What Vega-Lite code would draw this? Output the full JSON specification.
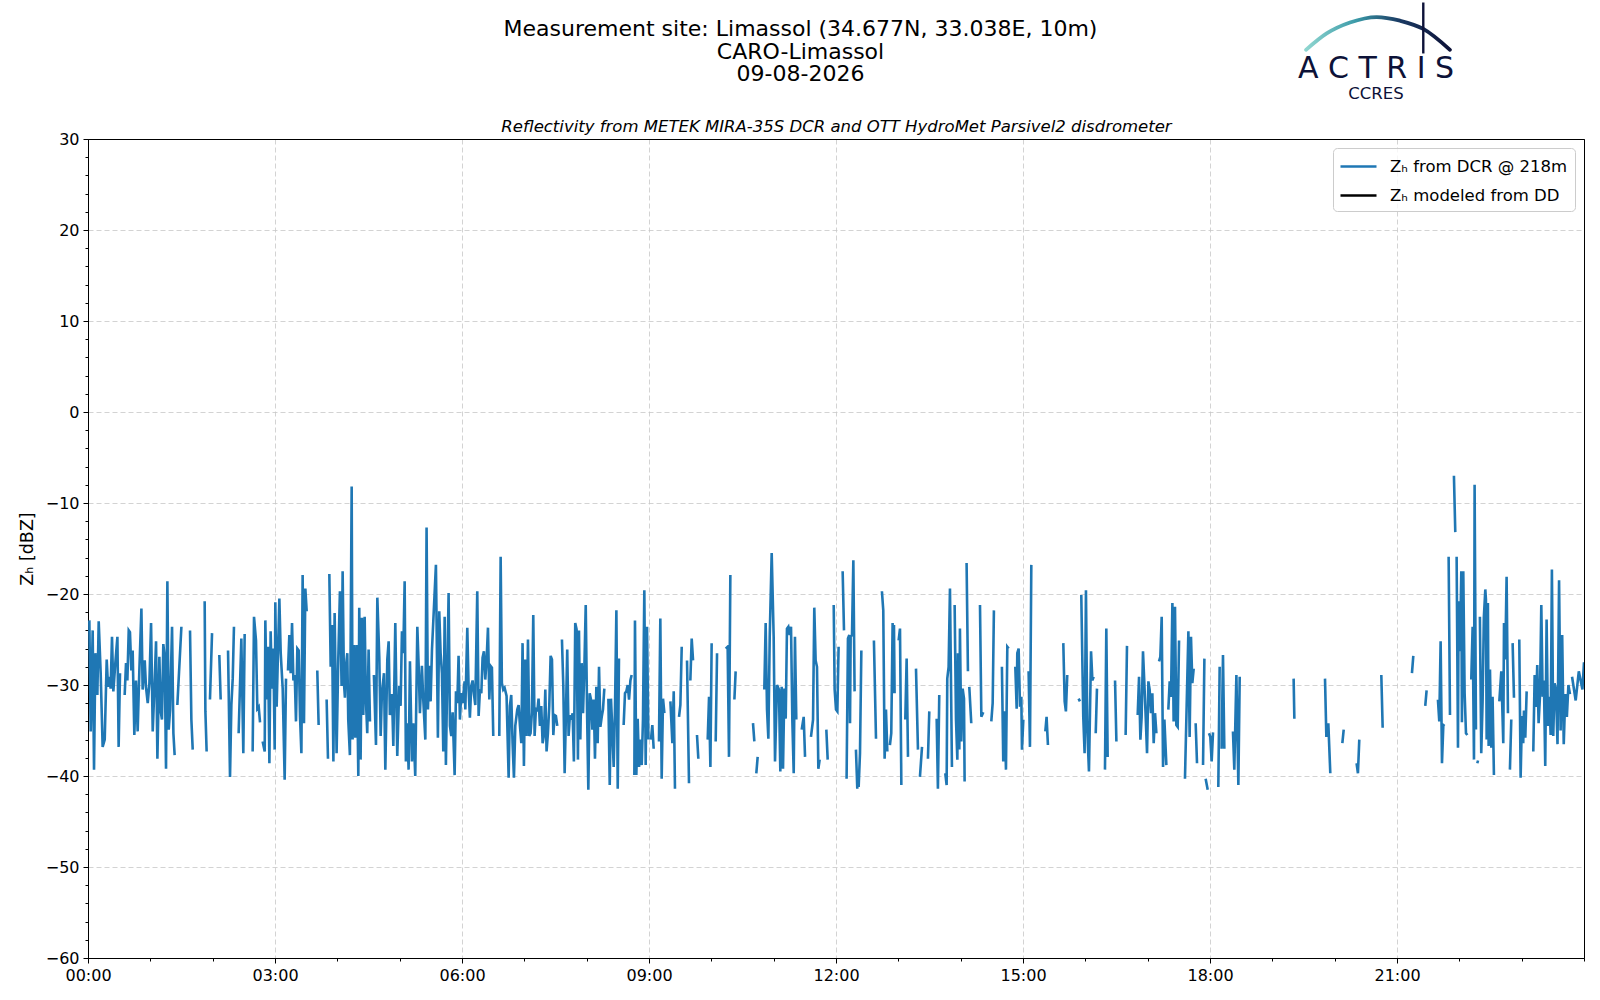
{
  "$schema": "https://vega.github.io/schema/vega-lite/v6.json",
  "autosize": {"type": "none"},
  "width": 1496,
  "height": 819,
  "padding": {"left": 88, "top": 139, "right": 16, "bottom": 42},
  "background": "white",
  "datasets": {
    "zh": [
      {"t":1.3,"z":-22.9},{"t":2.6,"z":-35.1},{"t":4.5,"z":-24.0},{"t":5.8,"z":-39.3},{"t":7.1,"z":-26.5},{"t":9.0,"z":-31.1},{"t":10.3,"z":-23.0},{"t":12.2,"z":-28.7},{"t":14.1,"z":-36.8},{"t":16.1,"z":-36.0},{"t":18.0,"z":-27.2},{"t":19.3,"z":-30.2},{"t":20.6,"z":-29.1},{"t":21.8,"z":-30.4},{"t":23.1,"z":-24.7},{"t":24.4,"z":-30.7},{"t":26.3,"z":-27.6},{"t":28.3,"z":-24.7},{"t":29.5,"z":-36.8},{"t":30.8,"z":-28.7},
      {"t":33,"z":null},
      {"t":35.3,"z":-31.1},{"t":36.6,"z":-27.6},{"t":37.9,"z":-29.5},{"t":39.2,"z":-24.0},{"t":40.4,"z":-24.2},{"t":41.7,"z":-28.4},{"t":43.0,"z":-26.2},{"t":44.6,"z":-35.5},{"t":46.2,"z":-29.5},{"t":47.8,"z":-35.1},{"t":49.4,"z":-28.5},{"t":51.4,"z":-21.6},{"t":52.6,"z":-30.5},{"t":54.6,"z":-27.3},{"t":55.8,"z":-30.2},{"t":57.5,"z":-32.0},{"t":59.1,"z":-29.8},{"t":60.7,"z":-23.2},{"t":62.3,"z":-35.1},{"t":64.2,"z":-29.5},{"t":65.5,"z":-25.2},{"t":66.8,"z":-38.1},{"t":68.7,"z":-26.9},{"t":70.0,"z":-32.9},{"t":71.2,"z":-33.8},{"t":72.5,"z":-25.5},{"t":73.8,"z":-26.9},{"t":75.1,"z":-39.2},{"t":76.4,"z":-18.6},{"t":77.7,"z":-34.9},{"t":79.0,"z":-32.7},{"t":80.9,"z":-23.6},{"t":82.2,"z":-35.3},{"t":83.4,"z":-37.7},
      {"t":84.7,"z":null},
      {"t":86.0,"z":-32.2},{"t":89.9,"z":-23.6},
      {"t":94,"z":null},
      {"t":98.2,"z":-24.0},{"t":99.5,"z":-33.8},{"t":100.8,"z":-37.1},
      {"t":106,"z":null},
      {"t":112.3,"z":-20.8},{"t":113.0,"z":-32.9},{"t":114.2,"z":-37.3},
      {"t":116,"z":null},
      {"t":117.4,"z":-31.6},{"t":119.4,"z":-24.3},
      {"t":123,"z":null},
      {"t":126.4,"z":-26.7},{"t":127.7,"z":-31.6},
      {"t":131,"z":null},
      {"t":134.8,"z":-26.2},{"t":136.7,"z":-40.1},{"t":138.0,"z":-32.2},{"t":139.3,"z":-29.3},{"t":140.5,"z":-23.6},
      {"t":143,"z":null},
      {"t":145.0,"z":-35.3},{"t":147.6,"z":-24.9},{"t":149.5,"z":-37.5},{"t":150.8,"z":-24.4},
      {"t":155,"z":null},
      {"t":158.5,"z":-37.3},{"t":159.8,"z":-22.5},{"t":161.7,"z":-25.1},{"t":163.0,"z":-32.6},{"t":164.3,"z":-32.4},{"t":165.6,"z":-34.1},
      {"t":167,"z":null},
      {"t":168.1,"z":-36.2},{"t":170.1,"z":-37.3},{"t":170.7,"z":-22.9},{"t":172.0,"z":-31.6},{"t":173.3,"z":-25.8},{"t":174.6,"z":-38.6},{"t":175.8,"z":-24.1},{"t":177.1,"z":-30.4},{"t":178.4,"z":-26.0},{"t":179.7,"z":-37.1},{"t":180.3,"z":-20.9},{"t":181.6,"z":-32.4},{"t":182.9,"z":-26.3},{"t":184.2,"z":-20.5},{"t":185.5,"z":-26.5},{"t":187.4,"z":-30.4},{"t":189.3,"z":-40.4},{"t":190.6,"z":-29.3},
      {"t":191.5,"z":null},
      {"t":192.5,"z":-28.4},{"t":193.8,"z":-24.5},{"t":195.1,"z":-28.7},{"t":196.4,"z":-23.2},{"t":197.7,"z":-29.5},{"t":199.0,"z":-28.9},{"t":200.2,"z":-34.0},{"t":201.5,"z":-26.0},{"t":202.8,"z":-26.2},{"t":204.1,"z":-33.5},{"t":205.4,"z":-37.5},{"t":206.6,"z":-17.9},{"t":207.9,"z":-34.2},{"t":209.2,"z":-19.4},{"t":210.5,"z":-21.9},
      {"t":215,"z":null},
      {"t":220.7,"z":-28.4},{"t":222.0,"z":-34.4},
      {"t":226,"z":null},
      {"t":229.7,"z":-31.6},{"t":231.0,"z":-38.1},
      {"t":231.6,"z":null},
      {"t":232.3,"z":-17.8},{"t":233.6,"z":-28.0},{"t":234.9,"z":-23.4},{"t":236.2,"z":-38.4},{"t":237.4,"z":-22.1},{"t":239.3,"z":-37.5},{"t":240.9,"z":-27.2},{"t":242.5,"z":-19.7},{"t":244.1,"z":-30.1},{"t":245.1,"z":-17.5},{"t":246.4,"z":-29.8},{"t":247.3,"z":-31.4},{"t":248.3,"z":-27.9},{"t":249.6,"z":-26.5},{"t":250.5,"z":-33.8},{"t":252.1,"z":-37.7},{"t":253.8,"z":-8.2},{"t":254.7,"z":-36.0},{"t":256.0,"z":-25.6},{"t":257.3,"z":-35.8},{"t":258.6,"z":-25.6},{"t":260.2,"z":-40.0},{"t":261.1,"z":-21.5},{"t":262.4,"z":-38.2},{"t":263.7,"z":-22.6},{"t":265.0,"z":-33.3},{"t":266.3,"z":-22.5},{"t":267.5,"z":-31.6},{"t":268.8,"z":-35.3},{"t":270.1,"z":-26.1},{"t":271.4,"z":-34.0},
      {"t":273,"z":null},
      {"t":275.2,"z":-28.9},{"t":277.2,"z":-36.6},{"t":278.5,"z":-20.4},{"t":280.4,"z":-27.0},{"t":281.7,"z":-35.6},{"t":282.9,"z":-30.9},{"t":284.9,"z":-28.7},{"t":286.2,"z":-39.3},{"t":288.1,"z":-27.2},{"t":289.4,"z":-25.2},{"t":290.6,"z":-33.3},{"t":292.6,"z":-31.0},{"t":293.9,"z":-36.7},{"t":295.8,"z":-23.2},{"t":297.7,"z":-37.8},{"t":299.6,"z":-30.1},{"t":300.9,"z":-32.3},{"t":302.2,"z":-24.1},{"t":303.5,"z":-26.5},{"t":304.8,"z":-18.6},{"t":306.0,"z":-38.4},{"t":307.3,"z":-34.2},{"t":308.6,"z":-39.3},{"t":309.9,"z":-27.4},{"t":311.8,"z":-38.4},{"t":313.1,"z":-34.2},{"t":315.0,"z":-40.0},{"t":317.0,"z":-23.6},{"t":318.2,"z":-27.6},{"t":319.5,"z":-33.1},{"t":321.4,"z":-27.9},{"t":322.7,"z":-31.6},{"t":324.7,"z":-36.0},{"t":325.9,"z":-12.7},{"t":327.2,"z":-32.7},{"t":328.5,"z":-27.9},{"t":329.8,"z":-31.8},{"t":331.1,"z":-26.1},{"t":334.9,"z":-16.8},{"t":336.8,"z":-35.8},{"t":338.1,"z":-21.9},{"t":339.4,"z":-26.5},{"t":340.7,"z":-28.7},{"t":342.0,"z":-37.3},{"t":343.3,"z":-22.5},{"t":344.5,"z":-38.8},{"t":345.8,"z":-29.0},{"t":347.1,"z":-19.9},{"t":348.4,"z":-34.5},{"t":349.7,"z":-35.6},{"t":351.0,"z":-33.0},{"t":352.9,"z":-39.9},{"t":354.2,"z":-30.7},{"t":355.5,"z":-32.0},{"t":356.7,"z":-26.8},{"t":358.0,"z":-33.8},{"t":359.3,"z":-30.9},{"t":360.6,"z":-32.0},{"t":362.5,"z":-29.6},{"t":363.2,"z":-32.7},{"t":365.1,"z":-23.7},{"t":366.4,"z":-30.5},{"t":367.6,"z":-33.6},{"t":368.9,"z":-30.1},{"t":370.2,"z":-29.5},{"t":371.5,"z":-31.0},{"t":372.8,"z":-32.2},{"t":374.7,"z":-19.7},{"t":376.0,"z":-33.4},{"t":377.3,"z":-30.5},{"t":378.6,"z":-30.9},{"t":379.8,"z":-27.0},{"t":381.1,"z":-26.3},{"t":382.4,"z":-29.4},{"t":383.7,"z":-27.2},{"t":385.0,"z":-23.7},{"t":386.3,"z":-31.6},{"t":387.5,"z":-27.9},{"t":388.8,"z":-28.1},{"t":390.1,"z":-35.6},
      {"t":393,"z":null},
      {"t":395.9,"z":-35.6},{"t":397.2,"z":-15.9},{"t":398.4,"z":-29.8},{"t":399.7,"z":-30.5},{"t":401.0,"z":-30.3},{"t":402.9,"z":-31.2},{"t":404.9,"z":-40.2},{"t":406.1,"z":-32.3},{"t":407.4,"z":-31.1},{"t":408.7,"z":-36.4},{"t":410.0,"z":-40.2},{"t":411.3,"z":-34.5},{"t":413.2,"z":-32.7},{"t":414.5,"z":-32.2},{"t":415.8,"z":-34.5},{"t":417.1,"z":-36.4},{"t":418.3,"z":-25.4},{"t":419.6,"z":-38.9},{"t":420.9,"z":-27.2},{"t":422.2,"z":-35.6},{"t":423.5,"z":-25.0},{"t":424.8,"z":-35.6},{"t":426.0,"z":-35.3},{"t":427.3,"z":-33.0},{"t":428.6,"z":-22.3},{"t":429.9,"z":-35.6},{"t":431.2,"z":-32.5},{"t":432.5,"z":-32.9},{"t":433.7,"z":-31.5},{"t":435.0,"z":-34.5},{"t":436.3,"z":-32.3},{"t":437.6,"z":-36.4},{"t":438.9,"z":-35.5},{"t":440.2,"z":-30.5},{"t":441.4,"z":-37.3},{"t":442.7,"z":-35.3},{"t":444.0,"z":-32.3},{"t":445.3,"z":-26.8},{"t":446.6,"z":-27.2},{"t":447.9,"z":-35.5},{"t":449.1,"z":-33.3},{"t":450.4,"z":-33.4},{"t":451.7,"z":-34.5},
      {"t":454,"z":null},
      {"t":456.2,"z":-25.0},{"t":457.5,"z":-30.0},{"t":458.8,"z":-39.7},{"t":460.0,"z":-33.4},{"t":461.3,"z":-26.1},{"t":462.6,"z":-35.6},{"t":463.9,"z":-33.3},{"t":465.2,"z":-33.8},{"t":466.5,"z":-33.1},{"t":467.7,"z":-38.4},{"t":469.0,"z":-23.2},{"t":470.3,"z":-23.9},{"t":471.6,"z":-38.2},{"t":472.6,"z":-24.0},{"t":473.9,"z":-36.0},{"t":475.2,"z":-27.6},{"t":476.5,"z":-33.1},{"t":477.8,"z":-28.0},{"t":479.1,"z":-21.2},{"t":480.4,"z":-33.1},{"t":481.6,"z":-41.5},{"t":482.9,"z":-30.9},{"t":484.2,"z":-31.6},{"t":485.5,"z":-34.9},{"t":486.8,"z":-31.6},{"t":488.0,"z":-38.1},{"t":489.3,"z":-30.2},{"t":490.6,"z":-36.4},{"t":491.9,"z":-28.0},{"t":493.2,"z":-34.6},{"t":494.5,"z":-33.5},{"t":495.7,"z":-32.7},{"t":497.0,"z":-30.4},
      {"t":499,"z":null},
      {"t":500.9,"z":-31.5},{"t":502.2,"z":-41.0},{"t":503.4,"z":-31.5},{"t":504.7,"z":-34.9},{"t":506.0,"z":-39.0},{"t":507.3,"z":-32.4},{"t":508.6,"z":-21.8},{"t":509.9,"z":-41.4},{"t":511.1,"z":-27.1},
      {"t":513,"z":null},
      {"t":515.6,"z":-34.4},{"t":516.9,"z":-30.9},{"t":518.2,"z":-30.7},{"t":519.5,"z":-30.0},{"t":520.8,"z":-31.6},{"t":522.1,"z":-29.5},{"t":523.3,"z":-28.9},
      {"t":524.5,"z":null},
      {"t":525.9,"z":-39.9},{"t":526.5,"z":-22.9},{"t":527.8,"z":-39.9},{"t":529.1,"z":-33.7},{"t":530.4,"z":-39.0},{"t":531.7,"z":-36.0},{"t":533.0,"z":-38.8},{"t":534.2,"z":-33.8},{"t":535.5,"z":-19.6},{"t":536.8,"z":-38.8},{"t":538.1,"z":-23.6},{"t":539.4,"z":-36.0},
      {"t":540.5,"z":null},
      {"t":541.9,"z":-36.0},{"t":543.2,"z":-34.4},{"t":544.5,"z":-37.0},
      {"t":547,"z":null},
      {"t":549.6,"z":-36.2},{"t":550.9,"z":-22.7},{"t":552.2,"z":-40.3},{"t":553.5,"z":-31.5},{"t":554.8,"z":-33.1},
      {"t":557,"z":null},
      {"t":560.6,"z":-31.8},{"t":562.5,"z":-36.4},{"t":563.8,"z":-30.7},{"t":565.0,"z":-41.4},
      {"t":567,"z":null},
      {"t":568.9,"z":-33.5},{"t":570.2,"z":-32.2},{"t":571.5,"z":-25.8},
      {"t":574,"z":null},
      {"t":576.6,"z":-27.3},{"t":578.5,"z":-40.8},
      {"t":579.2,"z":null},
      {"t":579.8,"z":-29.5},{"t":581.1,"z":-24.9},{"t":582.4,"z":-27.3},
      {"t":584,"z":null},
      {"t":586.2,"z":-35.5},{"t":587.5,"z":-38.1},
      {"t":592,"z":null},
      {"t":596.5,"z":-36.0},{"t":597.8,"z":-31.3},{"t":599.1,"z":-39.0},{"t":600.3,"z":-25.4},
      {"t":602,"z":null},
      {"t":604.2,"z":-36.2},{"t":605.5,"z":-26.5},
      {"t":610,"z":null},
      {"t":613.8,"z":-26.0},{"t":615.7,"z":-25.8},{"t":617.0,"z":-37.9},{"t":618.3,"z":-17.9},
      {"t":620,"z":null},
      {"t":622.2,"z":-31.6},{"t":623.4,"z":-28.5},
      {"t":630,"z":null},
      {"t":640.1,"z":-34.2},{"t":641.4,"z":-36.2},
      {"t":642.5,"z":null},
      {"t":643.3,"z":-39.7},{"t":644.6,"z":-37.9},
      {"t":648,"z":null},
      {"t":651.0,"z":-30.5},{"t":652.3,"z":-23.2},{"t":653.6,"z":-32.7},{"t":654.9,"z":-35.9},{"t":656.2,"z":-24.7},{"t":658.1,"z":-15.5},{"t":660.0,"z":-24.7},{"t":661.3,"z":-38.4},{"t":663.2,"z":-30.0},{"t":665.1,"z":-30.5},{"t":666.4,"z":-39.5},{"t":667.7,"z":-30.2},{"t":669.0,"z":-39.2},{"t":670.3,"z":-30.4},{"t":671.6,"z":-33.7},{"t":672.8,"z":-23.8},{"t":674.1,"z":-23.6},{"t":675.4,"z":-24.5},{"t":676.7,"z":-23.6},{"t":678.0,"z":-34.0},{"t":679.3,"z":-39.7},{"t":680.5,"z":-24.7},{"t":681.8,"z":-33.8},
      {"t":684,"z":null},
      {"t":687.0,"z":-34.9},{"t":688.9,"z":-33.5},{"t":690.2,"z":-37.9},
      {"t":693,"z":null},
      {"t":695.9,"z":-35.7},{"t":697.9,"z":-33.8},{"t":699.1,"z":-21.5},{"t":700.4,"z":-27.3},{"t":701.7,"z":-28.0},{"t":703.0,"z":-39.2},{"t":704.3,"z":-38.2},
      {"t":707,"z":null},
      {"t":710.7,"z":-34.9},{"t":712.0,"z":-38.2},
      {"t":715,"z":null},
      {"t":717.8,"z":-21.2},{"t":718.7,"z":-30.5},{"t":720.0,"z":-32.7},{"t":721.3,"z":-32.9},{"t":722.5,"z":-25.8},
      {"t":724,"z":null},
      {"t":726.4,"z":-17.5},{"t":727.7,"z":-24.0},
      {"t":729,"z":null},
      {"t":730.2,"z":-40.3},{"t":731.5,"z":-24.9},{"t":732.8,"z":-24.5},{"t":733.5,"z":-34.2},{"t":734.1,"z":-24.7},{"t":735.4,"z":-24.5},{"t":736.7,"z":-16.3},{"t":737.9,"z":-30.7},
      {"t":738.5,"z":null},
      {"t":739.2,"z":-37.1},{"t":740.5,"z":-41.4},
      {"t":741.2,"z":null},
      {"t":741.8,"z":-41.2},{"t":743.1,"z":-37.5},{"t":744.4,"z":-26.2},
      {"t":750,"z":null},
      {"t":756.5,"z":-25.1},{"t":758.5,"z":-35.9},
      {"t":761,"z":null},
      {"t":764.2,"z":-19.7},{"t":765.5,"z":-21.8},{"t":766.8,"z":-38.1},{"t":768.1,"z":-32.7},{"t":769.4,"z":-37.3},
      {"t":770.5,"z":null},
      {"t":771.9,"z":-36.6},{"t":773.2,"z":-35.3},{"t":774.5,"z":-23.2},{"t":775.2,"z":-30.9},{"t":775.8,"z":-23.4},{"t":776.4,"z":-30.9},
      {"t":778,"z":null},
      {"t":780.3,"z":-25.1},{"t":781.6,"z":-23.8},{"t":782.9,"z":-41.0},
      {"t":785,"z":null},
      {"t":786.7,"z":-33.8},{"t":788.0,"z":-27.1},{"t":789.3,"z":-37.9},
      {"t":793,"z":null},
      {"t":797.0,"z":-28.2},{"t":798.9,"z":-37.1},
      {"t":799.8,"z":null},
      {"t":800.8,"z":-40.1},{"t":802.8,"z":-36.8},
      {"t":805,"z":null},
      {"t":808.5,"z":-38.1},{"t":809.8,"z":-32.9},
      {"t":813,"z":null},
      {"t":816.9,"z":-33.7},{"t":818.1,"z":-41.4},{"t":819.4,"z":-31.1},
      {"t":822,"z":null},
      {"t":825.2,"z":-39.7},{"t":826.5,"z":-41.0},{"t":827.1,"z":-29.3},{"t":828.4,"z":-28.0},{"t":829.7,"z":-19.4},{"t":831.6,"z":-39.0},
      {"t":833,"z":null},
      {"t":834.2,"z":-21.2},{"t":835.5,"z":-33.8},{"t":836.8,"z":-38.2},{"t":837.4,"z":-26.5},{"t":838.7,"z":-37.1},{"t":839.3,"z":-23.8},{"t":840.6,"z":-36.2},{"t":841.9,"z":-30.4},{"t":843.2,"z":-31.5},{"t":843.8,"z":-40.6},
      {"t":844.8,"z":null},
      {"t":845.7,"z":-16.6},{"t":847.0,"z":-28.5},
      {"t":847.6,"z":null},
      {"t":848.3,"z":-30.2},{"t":850.2,"z":-34.2},
      {"t":855,"z":null},
      {"t":858.6,"z":-21.2},{"t":859.9,"z":-33.5},{"t":861.8,"z":-33.0},
      {"t":865,"z":null},
      {"t":869.5,"z":-34.0},{"t":870.8,"z":-32.0},{"t":872.0,"z":-21.8},
      {"t":876,"z":null},
      {"t":879.7,"z":-28.0},{"t":881.0,"z":-38.4},{"t":882.3,"z":-32.9},{"t":883.6,"z":-39.3},{"t":884.9,"z":-25.8},{"t":886.2,"z":-26.0},
      {"t":889,"z":null},
      {"t":892.6,"z":-28.0},{"t":893.9,"z":-32.6},{"t":894.5,"z":-26.5},{"t":895.8,"z":-26.0},{"t":897.1,"z":-32.4},{"t":898.4,"z":-31.3},{"t":899.0,"z":-37.1},{"t":900.3,"z":-33.8},
      {"t":903,"z":null},
      {"t":905.4,"z":-28.5},{"t":906.7,"z":-36.8},{"t":908.0,"z":-16.8},
      {"t":915,"z":null},
      {"t":921.5,"z":-35.1},{"t":922.7,"z":-33.5},{"t":924.0,"z":-36.6},
      {"t":930,"z":null},
      {"t":938.8,"z":-25.4},{"t":940.1,"z":-31.8},{"t":941.3,"z":-32.9},{"t":942.6,"z":-28.9},
      {"t":948,"z":null},
      {"t":953.5,"z":-31.5},{"t":954.8,"z":-31.8},
      {"t":955.4,"z":null},
      {"t":956.1,"z":-20.1},{"t":958.0,"z":-33.5},{"t":959.3,"z":-37.5},{"t":960.6,"z":-19.6},{"t":961.9,"z":-35.0},{"t":963.5,"z":-39.5},{"t":965.5,"z":-26.3},{"t":966.8,"z":-29.5},{"t":968.0,"z":-29.1},
      {"t":969,"z":null},
      {"t":970.0,"z":-35.3},{"t":971.2,"z":-30.4},
      {"t":975,"z":null},
      {"t":978.9,"z":-39.3},{"t":980.2,"z":-23.8},{"t":981.5,"z":-37.9},
      {"t":985,"z":null},
      {"t":988.6,"z":-29.5},{"t":989.9,"z":-36.2},
      {"t":995,"z":null},
      {"t":998.8,"z":-35.5},{"t":1000.1,"z":-25.7},
      {"t":1005,"z":null},
      {"t":1010.4,"z":-33.3},{"t":1011.7,"z":-29.1},{"t":1013.0,"z":-36.0},{"t":1014.2,"z":-33.5},{"t":1015.5,"z":-26.3},{"t":1016.8,"z":-29.8},{"t":1018.1,"z":-33.5},{"t":1019.4,"z":-37.5},{"t":1020.7,"z":-29.6},{"t":1021.9,"z":-30.5},{"t":1023.2,"z":-33.1},{"t":1024.5,"z":-30.9},{"t":1025.8,"z":-36.4},{"t":1027.1,"z":-33.1},{"t":1028.4,"z":-35.3},
      {"t":1029.5,"z":null},
      {"t":1030.9,"z":-27.4},{"t":1032.2,"z":-26.9},{"t":1033.5,"z":-22.5},{"t":1034.8,"z":-39.0},{"t":1036.1,"z":-33.8},{"t":1038.0,"z":-38.8},
      {"t":1039,"z":null},
      {"t":1039.9,"z":-32.7},{"t":1041.2,"z":-29.6},{"t":1042.5,"z":-31.3},{"t":1043.8,"z":-21.0},{"t":1045.0,"z":-34.0},{"t":1046.3,"z":-21.4},{"t":1047.6,"z":-34.4},{"t":1048.9,"z":-34.6},{"t":1050.2,"z":-25.1},
      {"t":1053,"z":null},
      {"t":1055.9,"z":-40.3},{"t":1059.2,"z":-24.1},{"t":1060.4,"z":-35.7},{"t":1061.7,"z":-24.7},{"t":1063.0,"z":-29.8},{"t":1064.3,"z":-28.2},
      {"t":1065.2,"z":null},
      {"t":1066.2,"z":-34.2},{"t":1067.5,"z":-38.6},
      {"t":1070,"z":null},
      {"t":1073.3,"z":-38.8},{"t":1074.6,"z":-27.1},
      {"t":1075.2,"z":null},
      {"t":1075.8,"z":-40.3},{"t":1077.8,"z":-41.5},
      {"t":1078.4,"z":null},
      {"t":1079.0,"z":-35.3},{"t":1080.3,"z":-35.7},{"t":1081.6,"z":-38.4},{"t":1082.9,"z":-35.2},
      {"t":1085,"z":null},
      {"t":1088.0,"z":-41.2},{"t":1089.3,"z":-28.0},
      {"t":1090,"z":null},
      {"t":1091.2,"z":-37.0},{"t":1092.5,"z":-26.7},{"t":1093.8,"z":-37.0},
      {"t":1098,"z":null},
      {"t":1102.1,"z":-35.1},{"t":1103.4,"z":-39.3},{"t":1105.4,"z":-28.9},{"t":1107.3,"z":-41.0},{"t":1108.6,"z":-29.1},
      {"t":1130,"z":null},
      {"t":1160.5,"z":-29.3},{"t":1161.2,"z":-33.7},
      {"t":1175,"z":null},
      {"t":1190.7,"z":-29.3},{"t":1192.0,"z":-35.7},{"t":1193.9,"z":-34.2},{"t":1195.8,"z":-39.7},
      {"t":1200,"z":null},
      {"t":1207.4,"z":-36.4},{"t":1208.7,"z":-34.9},
      {"t":1215,"z":null},
      {"t":1221.1,"z":-38.6},{"t":1222.4,"z":-39.7},{"t":1223.7,"z":-36.0},
      {"t":1235,"z":null},
      {"t":1244.9,"z":-28.9},{"t":1246.2,"z":-34.7},
      {"t":1260,"z":null},
      {"t":1274.4,"z":-28.7},{"t":1275.7,"z":-26.8},
      {"t":1280,"z":null},
      {"t":1287.2,"z":-32.3},{"t":1288.5,"z":-30.6},
      {"t":1293,"z":null},
      {"t":1299.4,"z":-31.6},{"t":1300.7,"z":-34.0},{"t":1302.0,"z":-25.2},{"t":1303.3,"z":-38.6},{"t":1304.6,"z":-34.4},{"t":1305.8,"z":-34.5},
      {"t":1307.5,"z":null},
      {"t":1309.7,"z":-15.9},{"t":1311.0,"z":-33.3},
      {"t":1313,"z":null},
      {"t":1314.8,"z":-7.0},{"t":1316.1,"z":-13.2},
      {"t":1316.8,"z":null},
      {"t":1317.4,"z":-15.9},{"t":1318.7,"z":-36.9},{"t":1319.3,"z":-20.8},{"t":1320.6,"z":-26.3},{"t":1321.9,"z":-17.5},{"t":1322.5,"z":-34.1},{"t":1323.8,"z":-17.5},{"t":1325.1,"z":-30.9},{"t":1326.4,"z":-35.3},{"t":1327.7,"z":-35.5},
      {"t":1329.5,"z":null},
      {"t":1331.5,"z":-29.4},{"t":1332.8,"z":-23.6},{"t":1334.1,"z":-38.2},{"t":1334.7,"z":-8.0},{"t":1336.0,"z":-34.9},
      {"t":1336.6,"z":null},
      {"t":1337.3,"z":-38.6},{"t":1338.0,"z":-38.3},
      {"t":1338.9,"z":null},
      {"t":1339.8,"z":-22.5},{"t":1341.1,"z":-37.5},{"t":1342.4,"z":-31.8},{"t":1343.6,"z":-22.6},{"t":1345.0,"z":-19.5},{"t":1345.6,"z":-20.6},{"t":1346.3,"z":-36.0},{"t":1347.5,"z":-21.0},{"t":1348.2,"z":-36.7},{"t":1349.5,"z":-28.3},{"t":1350.8,"z":-36.9},{"t":1352.0,"z":-31.3},{"t":1353.3,"z":-39.9},
      {"t":1356,"z":null},
      {"t":1358.5,"z":-31.8},{"t":1360.4,"z":-28.5},{"t":1362.3,"z":-36.4},{"t":1363.0,"z":-23.2},{"t":1364.2,"z":-27.2},{"t":1365.5,"z":-18.1},{"t":1366.8,"z":-33.1},
      {"t":1367.8,"z":null},
      {"t":1368.7,"z":-39.3},{"t":1370.0,"z":-33.8},
      {"t":1370.6,"z":null},
      {"t":1371.3,"z":-25.4},{"t":1372.6,"z":-31.4},
      {"t":1375,"z":null},
      {"t":1377.7,"z":-25.0},{"t":1379.0,"z":-40.2},{"t":1380.3,"z":-33.4},{"t":1381.5,"z":-36.4},{"t":1382.2,"z":-32.8},{"t":1383.5,"z":-35.8},{"t":1384.8,"z":-30.7},
      {"t":1388,"z":null},
      {"t":1391.2,"z":-37.3},{"t":1392.5,"z":-28.9},{"t":1393.8,"z":-32.4},{"t":1395.0,"z":-27.8},{"t":1396.3,"z":-34.2},{"t":1397.6,"z":-31.3},{"t":1398.9,"z":-21.2},{"t":1400.2,"z":-31.3},{"t":1401.4,"z":-29.5},{"t":1402.7,"z":-38.9},{"t":1404.0,"z":-22.8},{"t":1405.3,"z":-34.5},{"t":1406.6,"z":-31.3},{"t":1407.9,"z":-35.5},{"t":1409.1,"z":-17.3},{"t":1410.4,"z":-35.6},{"t":1411.7,"z":-29.8},{"t":1413.0,"z":-30.5},{"t":1414.5,"z":-36.5},{"t":1416.0,"z":-18.5},{"t":1417.5,"z":-35.0},{"t":1419.0,"z":-24.5},{"t":1420.5,"z":-36.5},{"t":1422.0,"z":-31.0},{"t":1423.5,"z":-33.5},{"t":1425.0,"z":-30.0},{"t":1426.5,"z":-31.0},
      {"t":1427.5,"z":null},
      {"t":1428.5,"z":-29.1},{"t":1432.0,"z":-31.7},{"t":1435.0,"z":-28.5},{"t":1438.5,"z":-30.5},{"t":1440.0,"z":-27.5}
    ],
    "arc": [
      {"t":1172.4,"z":39.8},{"t":1192.3,"z":41.6},{"t":1214.7,"z":42.8},{"t":1240.4,"z":43.4},{"t":1262.9,"z":43.0},{"t":1285.3,"z":42.1},{"t":1311.0,"z":39.8}
    ]
  },
  "layer": [
    {
      "data": {"name": "zh"},
      "mark": {"type": "line", "strokeWidth": 2.6, "clip": true},
      "encoding": {
        "x": {
          "field": "t", "type": "quantitative",
          "scale": {"domain": [0, 1440], "nice": false, "zero": false},
          "axis": {
            "orient": "bottom", "title": null,
            "values": [0, 180, 360, 540, 720, 900, 1080, 1260],
            "labelExpr": "(datum.value < 600 ? '0' : '') + (datum.value / 60) + ':00'",
            "labelFlush": false, "grid": true, "tickSize": 5, "labelPadding": 4
          }
        },
        "y": {
          "field": "z", "type": "quantitative",
          "scale": {"domain": [-60, 30], "nice": false, "zero": false},
          "axis": {
            "orient": "left", "title": "Zₕ [dBZ]", "titleFontSize": 17.5, "titlePadding": 9,
            "values": [-60, -50, -40, -30, -20, -10, 0, 10, 20, 30],
            "format": "d", "labelFlush": false, "grid": true, "tickSize": 5, "labelPadding": 4
          }
        },
        "color": {
          "datum": "Zₕ from DCR @ 218m", "type": "nominal",
          "scale": {"domain": ["Zₕ from DCR @ 218m", "Zₕ modeled from DD"], "range": ["#1f77b4", "#000000"]},
          "legend": {
            "title": null, "orient": "top-right", "offset": 9,
            "fillColor": "rgba(255,255,255,0.8)", "strokeColor": "#cccccc", "cornerRadius": 4,
            "padding": 7, "rowPadding": 9,
            "symbolType": "M-1.1,0L2.5,0", "symbolSize": 400, "symbolStrokeWidth": 2.6,
            "labelOffset": 27, "labelFontSize": 16.5, "labelColor": "black", "labelLimit": 400
          }
        }
      }
    },
    {
      "data": {"values": [{}]},
      "mark": {"type": "point", "opacity": 0},
      "encoding": {
        "x": {
          "datum": 0, "type": "quantitative",
          "scale": {"domain": [0, 1440], "nice": false, "zero": false},
          "axis": {
            "orient": "bottom", "title": null, "labels": false, "grid": false, "domain": false, "tickSize": 3,
            "values": [0, 60, 120, 180, 240, 300, 360, 420, 480, 540, 600, 660, 720, 780, 840, 900, 960, 1020, 1080, 1140, 1200, 1260, 1320, 1380, 1440]
          }
        },
        "y": {
          "datum": 0, "type": "quantitative",
          "scale": {"domain": [-60, 30], "nice": false, "zero": false},
          "axis": {
            "orient": "left", "title": null, "labels": false, "grid": false, "domain": false, "tickSize": 3,
            "values": [-60, -58, -56, -54, -52, -50, -48, -46, -44, -42, -40, -38, -36, -34, -32, -30, -28, -26, -24, -22, -20, -18, -16, -14, -12, -10, -8, -6, -4, -2, 0, 2, 4, 6, 8, 10, 12, 14, 16, 18, 20, 22, 24, 26, 28, 30]
          }
        }
      }
    },
    {
      "data": {"values": [{}]},
      "mark": {"type": "point", "opacity": 0},
      "encoding": {
        "x": {
          "datum": 0, "type": "quantitative",
          "scale": {"domain": [0, 1440], "nice": false, "zero": false},
          "axis": {
            "orient": "top", "labels": false, "ticks": false, "grid": false, "domain": true, "zindex": 1,
            "title": "Reflectivity from METEK MIRA-35S DCR and OTT HydroMet Parsivel2 disdrometer",
            "titleFontStyle": "italic", "titleFontSize": 16.5, "titleBaseline": "alphabetic", "titleY": -7.5
          }
        },
        "y": {"datum": 0, "type": "quantitative", "scale": {"domain": [-60, 30], "nice": false, "zero": false}, "axis": null}
      }
    },
    {
      "data": {"values": [{}]},
      "mark": {"type": "point", "opacity": 0},
      "encoding": {
        "x": {
          "datum": 0, "type": "quantitative",
          "scale": {"domain": [0, 1440], "nice": false, "zero": false},
          "axis": {
            "orient": "top", "labels": false, "ticks": false, "grid": false, "domain": false,
            "title": ["Measurement site: Limassol (34.677N, 33.038E, 10m)", "CARO-Limassol", "09-08-2026"],
            "titleFontSize": 22, "titleLineHeight": 22.7, "titleBaseline": "alphabetic",
            "titleAlign": "center", "titleX": 712, "titleY": -103.5
          }
        },
        "y": {"datum": 0, "type": "quantitative", "scale": {"domain": [-60, 30], "nice": false, "zero": false}, "axis": null}
      }
    },
    {
      "data": {"name": "arc"},
      "mark": {
        "type": "line", "clip": false, "interpolate": "monotone", "strokeWidth": 3.8, "strokeCap": "round",
        "stroke": {
          "gradient": "linear", "x1": 0, "y1": 0, "x2": 1, "y2": 0,
          "stops": [
            {"offset": 0, "color": "#8fd6d0"},
            {"offset": 0.35, "color": "#3b9aa8"},
            {"offset": 0.65, "color": "#1a3a63"},
            {"offset": 1, "color": "#0d1238"}
          ]
        }
      },
      "encoding": {
        "x": {"field": "t", "type": "quantitative", "scale": {"domain": [0, 1440], "nice": false, "zero": false}, "axis": null},
        "y": {"field": "z", "type": "quantitative", "scale": {"domain": [-60, 30], "nice": false, "zero": false}, "axis": null}
      }
    },
    {
      "data": {"values": [{}]},
      "mark": {"type": "rule", "clip": false, "strokeWidth": 2.4, "color": "#0d1238"},
      "encoding": {
        "x": {"datum": 1285.3, "type": "quantitative", "scale": {"domain": [0, 1440], "nice": false, "zero": false}, "axis": null},
        "y": {"datum": 45.0, "type": "quantitative", "scale": {"domain": [-60, 30], "nice": false, "zero": false}, "axis": null},
        "y2": {"datum": 39.4}
      }
    },
    {
      "data": {"values": [{}]},
      "mark": {"type": "text", "clip": false, "text": "A C T R I S", "fontSize": 30, "align": "center", "baseline": "alphabetic", "color": "#0d1238"},
      "encoding": {
        "x": {"datum": 1239.8, "type": "quantitative", "scale": {"domain": [0, 1440], "nice": false, "zero": false}, "axis": null},
        "y": {"datum": 36.7, "type": "quantitative", "scale": {"domain": [-60, 30], "nice": false, "zero": false}, "axis": null}
      }
    },
    {
      "data": {"values": [{}]},
      "mark": {"type": "text", "clip": false, "text": "CCRES", "fontSize": 16.5, "align": "center", "baseline": "alphabetic", "color": "#0d1238"},
      "encoding": {
        "x": {"datum": 1239.8, "type": "quantitative", "scale": {"domain": [0, 1440], "nice": false, "zero": false}, "axis": null},
        "y": {"datum": 34.4, "type": "quantitative", "scale": {"domain": [-60, 30], "nice": false, "zero": false}, "axis": null}
      }
    }
  ],
  "resolve": {
    "scale": {"x": "independent", "y": "independent"},
    "axis": {"x": "independent", "y": "independent"}
  },
  "config": {
    "font": "DejaVu Sans",
    "view": {"stroke": "black", "strokeWidth": 1},
    "axis": {
      "labelFont": "DejaVu Sans", "labelFontSize": 16, "labelColor": "black",
      "titleFont": "DejaVu Sans", "titleColor": "black", "titleFontWeight": "normal",
      "tickColor": "black", "tickWidth": 1, "domainColor": "black", "domainWidth": 1,
      "gridColor": "#c8c8c8", "gridDash": [5, 3], "gridWidth": 0.8
    },
    "legend": {"labelFont": "DejaVu Sans"}
  }
}
